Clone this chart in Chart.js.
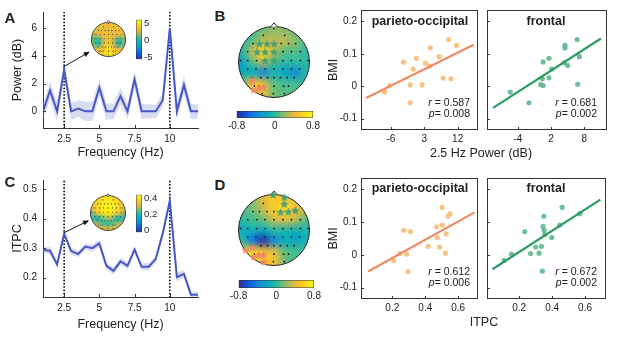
<!DOCTYPE html>
<html>
<head>
<meta charset="utf-8">
<script src="https://cdn.jsdelivr.net/npm/chart.js@4.4.1/dist/chart.umd.min.js"></script>
<style>
  html, body { margin: 0; padding: 0; background: #fff; }
  #fig { position: relative; width: 617px; height: 337px; overflow: hidden;
         font-family: "Liberation Sans", Arial, sans-serif; color: #222; }
  #fig canvas { position: absolute; }
  .lbl { position: absolute; white-space: nowrap; line-height: 1; }
</style>
</head>
<body>
<div id="fig"></div>
<script>
// ---- spectra (panels A, C) ----
const freqs = [1, 1.5, 2, 2.5, 3, 3.5, 4, 4.5, 5, 5.5, 6, 6.5, 7, 7.5, 8, 8.5, 9, 9.5, 10, 10.5, 11, 11.5, 12];
const powerDb = [0, 1.5, 0, 3.0, 0, 0.2, 0, 0, 1.7, 0, 0, 1.1, 0, 2.3, 0, 0, 0, 0.8, 6.0, 0, 1.9, 0, 0];
const powerErr = [0.55, 0.65, 0.7, 0.55, 0.6, 0.6, 0.7, 0.7, 0.6, 0.6, 0.55, 0.6, 0.55, 0.6, 0.55, 0.5, 0.5, 0.5, 0.5, 0.55, 0.6, 0.55, 0.5];
const itpc = [0.294, 0.291, 0.245, 0.348, 0.29, 0.28, 0.305, 0.30, 0.316, 0.24, 0.223, 0.255, 0.24, 0.295, 0.237, 0.237, 0.263, 0.35, 0.46, 0.202, 0.213, 0.143, 0.143];
const itpcErr = [0.01, 0.012, 0.012, 0.012, 0.012, 0.01, 0.01, 0.012, 0.012, 0.012, 0.012, 0.012, 0.012, 0.01, 0.012, 0.012, 0.012, 0.015, 0.015, 0.015, 0.012, 0.01, 0.01];
const powerTicksX = [2.5, 5, 7.5, 10];
const powerTicksY = [0, 2, 4, 6];
const itpcTicksY = [0.2, 0.3, 0.4, 0.5];
const peakFreqs = [2.5, 10];
const arrowA = [[2.45, 3.2], [4.25, 4.25]];
const arrowC = [[2.5, 0.352], [4.2, 0.392]];

// ---- scatter panels (BMI vs power / ITPC) ----
const bmiTicks = [-0.1, 0, 0.1, 0.2];
const powPO = [[-7.7, -0.018], [-6.4, 0.002], [-2.6, 0.074], [0.0, 0.053], [0.85, 0.086], [-0.8, 0.004], [-0.8, -0.051], [2.4, 0.004],
               [3.3, 0.071], [4.4, 0.062], [4.6, 0.118], [7.0, 0.091], [8.1, 0.025], [9.6, 0.144], [10.2, 0.023], [11.7, 0.126]];
const powPOFit = [[-12.7, -0.036], [16.3, 0.128]];
const powFr = [[-5.4, -0.018], [-2.0, -0.051], [0.1, 0.005], [0.55, 0.002], [0.4, 0.023], [1.6, 0.026], [0.55, 0.075], [1.6, 0.086],
               [2.1, 0.053], [4.4, 0.072], [5.0, 0.064], [4.5, 0.126], [4.5, 0.118], [6.7, 0.144], [7.1, 0.091], [6.8, 0.006]];
const powFrFit = [[-8.5, -0.067], [11.0, 0.147]];
const itpcPO = [[0.21, -0.018], [0.245, 0.004], [0.287, 0.002], [0.295, -0.051], [0.27, 0.075], [0.31, 0.071], [0.418, 0.026], [0.469, 0.086],
                [0.473, 0.053], [0.487, 0.024], [0.503, 0.145], [0.503, 0.091], [0.527, 0.064], [0.523, 0.005], [0.537, 0.118], [0.55, 0.126]];
const itpcPOFit = [[0.053, -0.051], [0.699, 0.130]];
const itpcFr = [[0.109, -0.017], [0.154, 0.002], [0.234, 0.071], [0.269, 0.004], [0.301, 0.024], [0.321, 0.005], [0.335, 0.026], [0.341, -0.050],
                [0.345, 0.087], [0.352, 0.075], [0.35, 0.118], [0.356, 0.062], [0.398, 0.053], [0.446, 0.091], [0.461, 0.145], [0.568, 0.126]];
const itpcFrFit = [[0.038, -0.044], [0.693, 0.169]];
const powPOTicks = [-6, 3, 12];
const powFrTicks = [-4, 2, 8];
const itpcTicksX = [0.2, 0.4, 0.6];

// ---- topographies ----
const electrodes = [
  [0, 0.94],
  [-0.3, 0.75], [0.3, 0.75],
  [-0.59, 0.52], [-0.41, 0.52], [-0.2, 0.52], [0, 0.52], [0.2, 0.52], [0.41, 0.52], [0.61, 0.52],
  [-0.74, 0.29], [-0.48, 0.29], [-0.25, 0.29], [0, 0.29], [0.25, 0.29], [0.49, 0.29], [0.74, 0.29],
  [-0.94, 0.04], [-0.74, 0.04], [-0.49, 0.04], [-0.25, 0.04], [0, 0.04], [0.25, 0.04], [0.49, 0.04], [0.74, 0.04], [0.96, 0.04],
  [-0.74, -0.2], [-0.51, -0.2], [-0.25, -0.2], [0, -0.2], [0.25, -0.2], [0.49, -0.2], [0.72, -0.2],
  [-0.61, -0.44], [-0.37, -0.44], [-0.18, -0.44], [0, -0.44], [0.18, -0.44], [0.37, -0.44], [0.57, -0.44],
  [-0.55, -0.68], [-0.43, -0.68], [-0.3, -0.68], [0, -0.68], [0.27, -0.68], [0.41, -0.68],
  [-0.33, -0.89], [-0.02, -0.89], [0.29, -0.89]
];
const starsBGreen = [[-0.41, 0.52], [-0.2, 0.52], [0, 0.52], [-0.48, 0.29], [-0.25, 0.29], [0, 0.29], [-0.25, 0.04], [0, 0.04]];
const starsBOrange = [[-0.61, -0.52], [-0.57, -0.78], [-0.43, -0.74], [-0.3, -0.7]];
const starsDGreen = [[-0.02, 1.0], [0.29, 0.93], [0.29, 0.74], [0.19, 0.51], [0.4, 0.52], [0.6, 0.56]];
const starsDOrange = [[-0.8, -0.56], [-0.61, -0.49], [-0.57, -0.75], [-0.43, -0.7], [-0.29, -0.7], [-0.29, -0.89]];

// 7x7 value grids, rows top (front) to bottom (back)
const mapPower = [
  [3.5, 4, 4, 3.5, 4, 3.5, 3.5],
  [3.5, 3, 3.5, 3, 3.5, 3.5, 3],
  [2.5, 3, 3.5, 3.5, 3, 3.5, 3],
  [1, 0, 2.5, 4, 2.5, 0, 1.5],
  [1.5, 0, 3, 4.5, 2.5, -0.5, 1.5],
  [3.5, 3.5, 4, 5, 4, 3.5, 3.5],
  [4, 4, 4.5, 5, 4.5, 4, 4]
];
const mapItpc = [
  [0.34, 0.36, 0.38, 0.39, 0.38, 0.36, 0.34],
  [0.34, 0.39, 0.41, 0.42, 0.41, 0.39, 0.34],
  [0.32, 0.39, 0.42, 0.43, 0.42, 0.38, 0.32],
  [0.27, 0.35, 0.40, 0.42, 0.40, 0.35, 0.27],
  [0.20, 0.17, 0.24, 0.30, 0.24, 0.17, 0.20],
  [0.30, 0.28, 0.22, 0.20, 0.24, 0.28, 0.30],
  [0.36, 0.35, 0.33, 0.32, 0.33, 0.35, 0.36]
];
const mapB = [
  [0.05, 0.05, 0.15, 0.2, 0.2, 0.1, 0.05],
  [0.0, 0.1, 0.3, 0.3, 0.3, 0.2, 0.05],
  [-0.05, 0.35, 0.6, 0.3, 0.1, 0.1, 0.0],
  [-0.2, 0.1, 0.3, 0.05, 0.0, 0.0, 0.0],
  [-0.15, -0.15, -0.35, -0.1, -0.2, -0.35, -0.05],
  [0.2, 0.45, 0.4, 0.1, 0.05, 0.05, 0.0],
  [0.3, 0.5, 0.45, 0.15, 0.1, 0.1, 0.05]
];
const mapD = [
  [0.15, 0.2, 0.4, 0.55, 0.5, 0.35, 0.2],
  [0.1, 0.15, 0.35, 0.55, 0.65, 0.5, 0.3],
  [0.0, 0.05, 0.15, 0.35, 0.4, 0.3, 0.1],
  [-0.15, -0.1, -0.15, 0.0, -0.05, -0.1, -0.05],
  [0.0, -0.45, -0.75, -0.35, -0.15, -0.2, -0.1],
  [0.45, 0.6, 0.45, 0.4, 0.1, 0.05, 0.05],
  [0.45, 0.6, 0.55, 0.45, 0.15, 0.05, 0.05]
];

const parula = [[53,42,135],[20,80,215],[15,115,225],[20,145,210],[10,170,190],[45,185,160],[120,190,115],[200,185,80],[250,190,50],[245,220,35],[249,251,14]];
const blue = 'rgb(72,86,200)';
const band = 'rgba(140,155,215,0.35)';
const orangeDot = 'rgba(246,188,122,0.9)';
const orangeLine = 'rgb(239,138,98)';
const greenDot = 'rgba(96,184,142,0.9)';
const greenLine = 'rgb(42,156,100)';
const starGreen = 'rgb(72,158,120)';
const starOrange = 'rgb(242,138,100)';
const FONT = '"Liberation Sans", Arial, sans-serif';

const fig = document.getElementById('fig');

function addCanvas(x, y, w, h) {
  const c = document.createElement('canvas');
  c.width = w; c.height = h;
  c.style.left = x + 'px'; c.style.top = y + 'px';
  c.style.width = w + 'px'; c.style.height = h + 'px';
  fig.appendChild(c);
  return c;
}

function addText(html, x, y, size, opts = {}) {
  const d = document.createElement('div');
  d.className = 'lbl';
  d.innerHTML = html;
  d.style.left = x + 'px';
  d.style.top = y + 'px';
  d.style.fontSize = size + 'px';
  if (opts.bold) d.style.fontWeight = 'bold';
  const ax = opts.align === 'right' ? '-100%' : opts.align === 'left' ? '0' : '-50%';
  d.style.transform = `translate(${ax}, -50%)`;
  fig.appendChild(d);
}

function parulaColor(t) {
  t = Math.max(0, Math.min(1, t)) * (parula.length - 1);
  const i = Math.min(parula.length - 2, Math.floor(t));
  const f = t - i;
  return parula[i].map((c, k) => Math.round(c + (parula[i + 1][k] - c) * f));
}

const pts = arr => arr.map(p => ({ x: p[0], y: p[1] }));
const fixedTicks = vals => scale => { scale.ticks = vals.map(v => ({ value: v })); };

// inward tick marks + axis box
const framePlugin = {
  id: 'frame',
  afterDatasetsDraw(chart, args, opts) {
    const { ctx, chartArea: a, scales } = chart;
    ctx.save();
    ctx.strokeStyle = '#333';
    ctx.lineWidth = 1;
    if (opts.box) ctx.strokeRect(a.left + 0.5, a.top + 0.5, a.right - a.left - 1, a.bottom - a.top - 1);
    ctx.beginPath();
    scales.x.ticks.forEach(t => {
      const p = Math.round(scales.x.getPixelForValue(t.value)) + 0.5;
      ctx.moveTo(p, a.bottom); ctx.lineTo(p, a.bottom - 3);
    });
    scales.y.ticks.forEach(t => {
      const p = Math.round(scales.y.getPixelForValue(t.value)) + 0.5;
      ctx.moveTo(a.left, p); ctx.lineTo(a.left + 3, p);
    });
    ctx.stroke();
    ctx.restore();
  }
};

const arrowPlugin = {
  id: 'arrowHead',
  afterDatasetsDraw(chart) {
    const ctx = chart.ctx;
    chart.data.datasets.forEach((ds, i) => {
      if (!ds.arrow) return;
      const el = chart.getDatasetMeta(i).data;
      const a = el[el.length - 2], b = el[el.length - 1];
      const ang = Math.atan2(b.y - a.y, b.x - a.x);
      ctx.save();
      ctx.translate(b.x, b.y);
      ctx.rotate(ang);
      ctx.fillStyle = '#111';
      ctx.beginPath();
      ctx.moveTo(1, 0); ctx.lineTo(-5, -2.5); ctx.lineTo(-5, 2.5);
      ctx.closePath(); ctx.fill();
      ctx.restore();
    });
  }
};

// interpolated scalp map clipped to the head circle
const fieldPlugin = {
  id: 'field',
  beforeDatasetsDraw(chart, args, opts) {
    const { ctx, scales: { x, y } } = chart;
    const g = opts.grid, n = g.length, m = g[0].length;
    const off = document.createElement('canvas');
    off.width = m; off.height = n;
    const oc = off.getContext('2d');
    const img = oc.createImageData(m, n);
    g.forEach((row, r) => row.forEach((v, c) => {
      const col = parulaColor((v - opts.lo) / (opts.hi - opts.lo));
      const k = (r * m + c) * 4;
      img.data[k] = col[0]; img.data[k + 1] = col[1]; img.data[k + 2] = col[2]; img.data[k + 3] = 255;
    }));
    oc.putImageData(img, 0, 0);
    const cx = x.getPixelForValue(0), cy = y.getPixelForValue(0);
    const r = x.getPixelForValue(1) - cx;
    ctx.save();
    ctx.beginPath(); ctx.arc(cx, cy, r, 0, Math.PI * 2); ctx.clip();
    ctx.imageSmoothingEnabled = true;
    ctx.imageSmoothingQuality = 'high';
    ctx.drawImage(off, x.getPixelForValue(-1.05), y.getPixelForValue(1.05),
      x.getPixelForValue(1.05) - x.getPixelForValue(-1.05), y.getPixelForValue(-1.05) - y.getPixelForValue(1.05));
    ctx.restore();
    ctx.save();
    ctx.strokeStyle = '#222';
    ctx.lineWidth = opts.lw;
    ctx.beginPath(); ctx.arc(cx, cy, r, 0, Math.PI * 2); ctx.stroke();
    ctx.beginPath();
    ctx.moveTo(x.getPixelForValue(-0.09), y.getPixelForValue(0.995));
    ctx.lineTo(x.getPixelForValue(0), y.getPixelForValue(1.1));
    ctx.lineTo(x.getPixelForValue(0.09), y.getPixelForValue(0.995));
    ctx.fillStyle = '#fff'; ctx.fill(); ctx.stroke();
    ctx.restore();
  }
};

function starImg(color, size) {
  const c = document.createElement('canvas');
  c.width = c.height = size;
  const g = c.getContext('2d');
  g.fillStyle = color;
  g.beginPath();
  for (let i = 0; i < 10; i++) {
    const rr = i % 2 ? size * 0.22 : size * 0.5;
    const a = -Math.PI / 2 + i * Math.PI / 5;
    g.lineTo(size / 2 + rr * Math.cos(a), size / 2 + 0.6 + rr * Math.sin(a));
  }
  g.closePath();
  g.fill();
  return c;
}

function topomap(cx, cy, r, grid, lo, hi, green, orange, dotR, dotColor) {
  const s = Math.round(2 * r * 1.14);
  const c = addCanvas(Math.round(cx - s / 2), Math.round(cy - s / 2), s, s);
  const datasets = [{ data: pts(electrodes), pointRadius: dotR, backgroundColor: dotColor, borderWidth: 0, order: 3 }];
  if (green) datasets.push({ data: pts(green), pointStyle: starImg(starGreen, 9), pointRadius: 4.5, order: 0 });
  if (orange) datasets.push({ data: pts(orange), pointStyle: starImg(starOrange, 9), pointRadius: 4.5, order: 0 });
  new Chart(c, {
    type: 'scatter',
    data: { datasets },
    options: {
      responsive: false, animation: false, events: [], devicePixelRatio: 1,
      layout: { padding: 0 },
      scales: {
        x: { type: 'linear', min: -1.14, max: 1.14, display: false },
        y: { type: 'linear', min: -1.14, max: 1.14, display: false }
      },
      plugins: { legend: { display: false }, tooltip: { enabled: false },
                 field: { grid, lo, hi, lw: r > 30 ? 1 : 0.8 } }
    },
    plugins: [fieldPlugin]
  });
}

function gradientFill(horizontal) {
  return ctx => {
    const area = ctx.chart.chartArea;
    if (!area) return '#888';
    const g = horizontal
      ? ctx.chart.ctx.createLinearGradient(area.left, 0, area.right, 0)
      : ctx.chart.ctx.createLinearGradient(0, area.bottom, 0, area.top);
    parula.forEach((c, i) => g.addColorStop(i / (parula.length - 1), `rgb(${c[0]},${c[1]},${c[2]})`));
    return g;
  };
}

function colorbar(x, y, w, h, pad, axisSize, lo, hi, ticks, horizontal, fontSize) {
  const c = addCanvas(x, y, w, h);
  const valAxis = {
    type: 'linear', min: lo, max: hi,
    position: horizontal ? 'bottom' : 'right',
    afterBuildTicks: fixedTicks(ticks),
    afterFit: s => { if (horizontal) s.height = axisSize; else s.width = axisSize; },
    grid: { display: false, drawTicks: false },
    border: { display: false },
    ticks: { padding: 2, color: '#222', font: { family: FONT, size: fontSize }, callback: v => String(v) }
  };
  const catAxis = { type: 'category', display: false };
  new Chart(c, {
    type: 'bar',
    data: { labels: ['c'], datasets: [{ data: [[lo, hi]], backgroundColor: gradientFill(horizontal),
      borderColor: '#333', borderWidth: 0.8, borderSkipped: false, barPercentage: 1, categoryPercentage: 1 }] },
    options: {
      indexAxis: horizontal ? 'y' : 'x',
      responsive: false, animation: false, events: [], devicePixelRatio: 1,
      layout: { padding: pad },
      scales: horizontal ? { x: valAxis, y: catAxis } : { y: valAxis, x: catAxis },
      plugins: { legend: { display: false }, tooltip: { enabled: false } }
    }
  });
}

function spectrum(x, y, w, h, pad, yw, xh, vals, errs, yMin, yMax, yTicks, yTitle, arrow) {
  const c = addCanvas(x, y, w, h);
  const datasets = [
    { data: freqs.map((f, i) => ({ x: f, y: vals[i] - errs[i] })), borderWidth: 0, pointRadius: 0, fill: false, order: 5 },
    { data: freqs.map((f, i) => ({ x: f, y: vals[i] + errs[i] })), borderWidth: 0, pointRadius: 0, fill: '-1', backgroundColor: band, order: 5 },
    { data: freqs.map((f, i) => ({ x: f, y: vals[i] })), borderColor: blue, borderWidth: 2, pointRadius: 0, fill: false, order: 1 }
  ];
  peakFreqs.forEach(f => datasets.push({
    data: [{ x: f, y: yMin }, { x: f, y: yMax }], borderColor: '#111', borderWidth: 1.8,
    borderDash: [0.1, 3.2], borderCapStyle: 'round', pointRadius: 0, fill: false, order: 2
  }));
  datasets.push({ data: pts(arrow), borderColor: '#111', borderWidth: 1, pointRadius: 0, fill: false, arrow: true, order: 0, clip: false });
  new Chart(c, {
    type: 'line',
    data: { datasets },
    options: {
      responsive: false, animation: false, events: [], devicePixelRatio: 1,
      layout: { padding: pad },
      scales: {
        x: { type: 'linear', min: 1, max: 12, afterBuildTicks: fixedTicks(powerTicksX),
             afterFit: s => { s.height = xh; },
             grid: { display: false, drawTicks: false }, border: { color: '#333', width: 1 },
             ticks: { padding: 5, color: '#222', font: { family: FONT, size: 10 }, callback: v => String(v) },
             title: { display: true, text: 'Frequency (Hz)', color: '#222', font: { family: FONT, size: 12.5 }, padding: { top: 0, bottom: 5 } } },
        y: { type: 'linear', min: yMin, max: yMax, afterBuildTicks: fixedTicks(yTicks),
             afterFit: s => { s.width = yw; },
             grid: { display: false, drawTicks: false }, border: { color: '#333', width: 1 },
             ticks: { padding: 6, color: '#222', font: { family: FONT, size: 10 }, callback: v => String(v) },
             title: { display: true, text: yTitle, color: '#222', font: { family: FONT, size: 12.5 }, padding: { top: 10, bottom: 0 } } }
      },
      plugins: { legend: { display: false }, tooltip: { enabled: false }, frame: { box: false } }
    },
    plugins: [framePlugin, arrowPlugin]
  });
}

function scatterPanel(x, y, w, h, pad, yw, xh, data, fit, xMin, xMax, xTicks, dotColor, lineColor, showY) {
  const c = addCanvas(x, y, w, h);
  new Chart(c, {
    type: 'scatter',
    data: { datasets: [
      { type: 'line', data: pts(fit), borderColor: lineColor, borderWidth: 2.2, pointRadius: 0, fill: false, order: 0 },
      { data: pts(data), backgroundColor: dotColor, borderWidth: 0, pointRadius: 2.6, order: 1 }
    ] },
    options: {
      responsive: false, animation: false, events: [], devicePixelRatio: 1,
      layout: { padding: pad },
      scales: {
        x: { type: 'linear', min: xMin, max: xMax, afterBuildTicks: fixedTicks(xTicks),
             afterFit: s => { s.height = xh; },
             grid: { display: false, drawTicks: false }, border: { display: false },
             ticks: { padding: 3, color: '#222', font: { family: FONT, size: 10 }, callback: v => String(v) } },
        y: { type: 'linear', min: -0.135, max: 0.235, afterBuildTicks: fixedTicks(bmiTicks),
             afterFit: s => { s.width = yw; },
             grid: { display: false, drawTicks: false }, border: { display: false },
             ticks: { display: showY, padding: 4, color: '#222', font: { family: FONT, size: 10 }, callback: v => String(v) },
             title: { display: showY, text: 'BMI', color: '#222', font: { family: FONT, size: 12.5 }, padding: { top: 3, bottom: 0 } } }
      },
      plugins: { legend: { display: false }, tooltip: { enabled: false }, frame: { box: true } }
    },
    plugins: [framePlugin]
  });
}

// ---- panel A / C ----
spectrum(0, 0, 205, 165, { top: 12, right: 7, left: 0, bottom: 0 }, 43, 37, powerDb, powerErr, -1.2, 7.15, powerTicksY, 'Power (dB)', arrowA);
spectrum(0, 165, 205, 172, { top: 15, right: 7, left: 0, bottom: 0 }, 43, 40, itpc, itpcErr, 0.135, 0.53, itpcTicksY, 'ITPC', arrowC);
topomap(108.3, 39.5, 20.5, mapPower, -5.7, 6.0, null, null, 0.55, '#333');
topomap(108, 213, 21, mapItpc, -0.025, 0.44, null, null, 0.55, '#333');
colorbar(133, 12, 32, 55, { top: 5, left: 3, right: 0, bottom: 5 }, 23, -5.7, 6.0, [-5, 0, 5], false, 9.5);
colorbar(133, 187, 36, 53, { top: 5, left: 3, right: 0, bottom: 5 }, 27, -0.025, 0.44, [0, 0.2, 0.4], false, 9.5);

// ---- panel B / D ----
topomap(273.5, 61.5, 40.5, mapB, -0.8, 0.8, starsBGreen, starsBOrange, 0.9, '#111');
topomap(273.5, 229.5, 40.5, mapD, -0.8, 0.8, starsDGreen, starsDOrange, 0.9, '#111');
colorbar(226, 108, 96, 27, { top: 3, left: 7, right: 9, bottom: 0 }, 17, -0.8, 0.8, [-0.8, 0, 0.8], true, 10);
colorbar(228, 277, 96, 27, { top: 3, left: 7, right: 10, bottom: 0 }, 16, -0.8, 0.8, [-0.8, 0, 0.8], true, 10);

// ---- scatters ----
scatterPanel(323, 0, 159, 145, { top: 10, right: 4, left: 0, bottom: 0 }, 38, 15, powPO, powPOFit, -14.1, 17.5, powPOTicks, orangeDot, orangeLine, true);
scatterPanel(482, 0, 135, 145, { top: 10, right: 10, left: 0, bottom: 0 }, 5, 15, powFr, powFrFit, -9.6, 12.1, powFrTicks, greenDot, greenLine, false);
scatterPanel(323, 168, 159, 145, { top: 10, right: 4, left: 0, bottom: 0 }, 38, 14, itpcPO, itpcPOFit, 0.01, 0.72, itpcTicksX, orangeDot, orangeLine, true);
scatterPanel(482, 168, 135, 145, { top: 10, right: 11, left: 0, bottom: 0 }, 5, 14, itpcFr, itpcFrFit, 0.005, 0.727, itpcTicksX, greenDot, greenLine, false);

// ---- text ----
addText('A', 10, 17, 15, { bold: true });
addText('C', 10, 181, 15, { bold: true });
addText('B', 220, 15, 15, { bold: true });
addText('D', 220, 184, 15, { bold: true });
addText('parieto-occipital', 420, 21, 12.5, { bold: true });
addText('frontal', 546, 21, 12.5, { bold: true });
addText('parieto-occipital', 420, 188, 12.5, { bold: true });
addText('frontal', 546, 188, 12.5, { bold: true });
addText('<i>r</i> = 0.587', 470, 102, 10.5, { align: 'right' });
addText('<i>p</i>= 0.008', 470, 113, 10.5, { align: 'right' });
addText('<i>r</i> = 0.681', 597, 102, 10.5, { align: 'right' });
addText('<i>p</i>= 0.002', 597, 113, 10.5, { align: 'right' });
addText('<i>r</i> = 0.612', 470, 271, 10.5, { align: 'right' });
addText('<i>p</i>= 0.006', 470, 282, 10.5, { align: 'right' });
addText('<i>r</i> = 0.672', 597, 271, 10.5, { align: 'right' });
addText('<i>p</i>= 0.002', 597, 282, 10.5, { align: 'right' });
addText('2.5 Hz Power (dB)', 481, 153, 12.5);
addText('ITPC', 484, 322, 12.5);
</script>
</body>
</html>
